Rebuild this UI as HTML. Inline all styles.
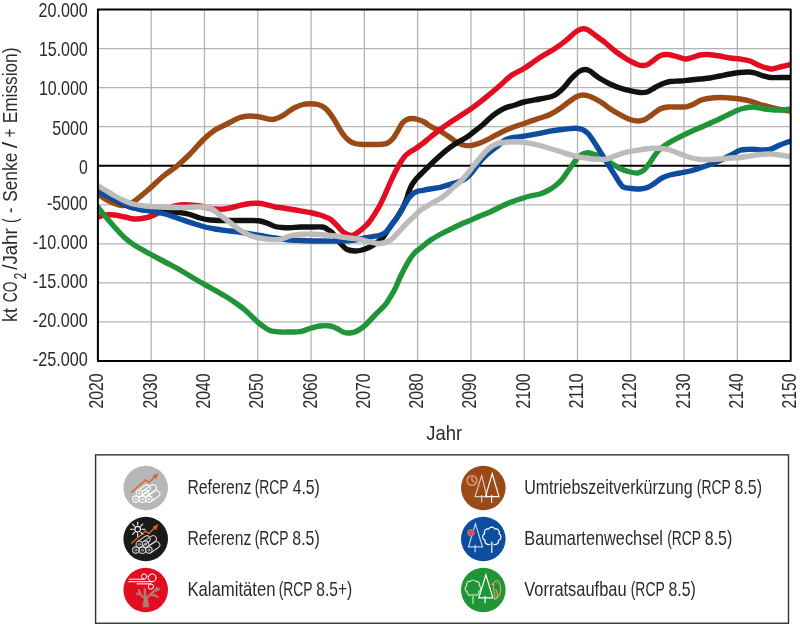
<!DOCTYPE html>
<html lang="de"><head><meta charset="utf-8"><title>CO2-Bilanz Szenarien</title>
<style>html,body{margin:0;padding:0;background:#fff}body{width:800px;height:624px;overflow:hidden}svg{display:block}text{font-family:"Liberation Sans",sans-serif;fill:#2b2b2a}</style>
</head><body>
<svg width="800" height="624" viewBox="0 0 800 624">
<rect width="800" height="624" fill="#fff"/>
<defs><clipPath id="plot"><rect x="97.9" y="9.5" width="692.8" height="351.5"/></clipPath></defs>
<g stroke="#b3b3b3" stroke-width="1.3" fill="none">
<line x1="151.19" y1="9.5" x2="151.19" y2="361.0"/>
<line x1="204.48" y1="9.5" x2="204.48" y2="361.0"/>
<line x1="257.77" y1="9.5" x2="257.77" y2="361.0"/>
<line x1="311.05" y1="9.5" x2="311.05" y2="361.0"/>
<line x1="364.34" y1="9.5" x2="364.34" y2="361.0"/>
<line x1="417.63" y1="9.5" x2="417.63" y2="361.0"/>
<line x1="470.92" y1="9.5" x2="470.92" y2="361.0"/>
<line x1="524.21" y1="9.5" x2="524.21" y2="361.0"/>
<line x1="577.50" y1="9.5" x2="577.50" y2="361.0"/>
<line x1="630.78" y1="9.5" x2="630.78" y2="361.0"/>
<line x1="684.07" y1="9.5" x2="684.07" y2="361.0"/>
<line x1="737.36" y1="9.5" x2="737.36" y2="361.0"/>
<line x1="97.9" y1="48.56" x2="790.6" y2="48.56"/>
<line x1="97.9" y1="87.61" x2="790.6" y2="87.61"/>
<line x1="97.9" y1="126.67" x2="790.6" y2="126.67"/>
<line x1="97.9" y1="204.78" x2="790.6" y2="204.78"/>
<line x1="97.9" y1="243.83" x2="790.6" y2="243.83"/>
<line x1="97.9" y1="282.89" x2="790.6" y2="282.89"/>
<line x1="97.9" y1="321.94" x2="790.6" y2="321.94"/>
</g>
<line x1="97.9" y1="165.72" x2="790.6" y2="165.72" stroke="#000" stroke-width="2"/>
<g clip-path="url(#plot)" fill="none" stroke-width="5.4" stroke-linejoin="round" stroke-linecap="butt">
<path stroke="#9a4a16" d="M97.00 193.50C99.17 194.85 105.83 199.58 110.00 201.60C114.17 203.62 118.75 205.20 122.00 205.60C125.25 206.00 127.25 204.88 129.50 204.00C131.75 203.12 132.42 202.63 135.50 200.30C138.58 197.97 143.33 194.05 148.00 190.00C152.67 185.95 158.67 180.00 163.50 176.00C168.33 172.00 172.58 169.67 177.00 166.00C181.42 162.33 185.50 158.50 190.00 154.00C194.50 149.50 199.83 143.00 204.00 139.00C208.17 135.00 211.17 132.50 215.00 130.00C218.83 127.50 222.83 126.08 227.00 124.00C231.17 121.92 236.17 118.83 240.00 117.50C243.83 116.17 246.67 116.08 250.00 116.00C253.33 115.92 256.33 116.42 260.00 117.00C263.67 117.58 268.33 119.67 272.00 119.50C275.67 119.33 279.00 117.50 282.00 116.00C285.00 114.50 287.83 111.92 290.00 110.50C292.17 109.08 292.83 108.50 295.00 107.50C297.17 106.50 300.50 105.12 303.00 104.50C305.50 103.88 307.50 103.75 310.00 103.75C312.50 103.75 315.50 103.79 318.00 104.50C320.50 105.21 323.00 106.50 325.00 108.00C327.00 109.50 328.33 111.33 330.00 113.50C331.67 115.67 333.33 118.30 335.00 121.00C336.67 123.70 338.33 127.07 340.00 129.70C341.67 132.33 343.33 134.87 345.00 136.80C346.67 138.73 348.33 140.18 350.00 141.30C351.67 142.42 353.33 143.00 355.00 143.50C356.67 144.00 357.50 144.13 360.00 144.30C362.50 144.47 366.33 144.50 370.00 144.50C373.67 144.50 379.00 144.58 382.00 144.30C385.00 144.02 386.17 143.77 388.00 142.80C389.83 141.83 391.50 140.25 393.00 138.50C394.50 136.75 395.75 134.38 397.00 132.30C398.25 130.22 399.50 127.67 400.50 126.00C401.50 124.33 401.92 123.38 403.00 122.30C404.08 121.22 405.50 120.13 407.00 119.50C408.50 118.87 410.17 118.50 412.00 118.50C413.83 118.50 415.83 118.83 418.00 119.50C420.17 120.17 423.00 121.42 425.00 122.50C427.00 123.58 427.50 124.58 430.00 126.00C432.50 127.42 436.67 129.08 440.00 131.00C443.33 132.92 447.00 135.50 450.00 137.50C453.00 139.50 455.50 141.70 458.00 143.00C460.50 144.30 462.67 144.92 465.00 145.30C467.33 145.68 469.50 145.68 472.00 145.30C474.50 144.92 477.00 144.17 480.00 143.00C483.00 141.83 486.67 139.97 490.00 138.30C493.33 136.63 496.67 134.65 500.00 133.00C503.33 131.35 506.00 129.98 510.00 128.40C514.00 126.82 519.00 125.23 524.00 123.50C529.00 121.77 535.67 119.50 540.00 118.00C544.33 116.50 546.67 116.08 550.00 114.50C553.33 112.92 556.67 110.75 560.00 108.50C563.33 106.25 567.17 103.00 570.00 101.00C572.83 99.00 574.83 97.50 577.00 96.50C579.17 95.50 580.83 95.00 583.00 95.00C585.17 95.00 587.17 95.42 590.00 96.50C592.83 97.58 596.67 99.47 600.00 101.50C603.33 103.53 606.67 106.50 610.00 108.70C613.33 110.90 616.67 112.90 620.00 114.70C623.33 116.50 627.00 118.45 630.00 119.50C633.00 120.55 635.50 121.00 638.00 121.00C640.50 121.00 642.67 120.55 645.00 119.50C647.33 118.45 649.50 116.45 652.00 114.70C654.50 112.95 657.33 110.28 660.00 109.00C662.67 107.72 665.00 107.33 668.00 107.00C671.00 106.67 675.00 107.03 678.00 107.00C681.00 106.97 683.50 107.22 686.00 106.80C688.50 106.38 690.67 105.55 693.00 104.50C695.33 103.45 697.50 101.50 700.00 100.50C702.50 99.50 704.67 99.00 708.00 98.50C711.33 98.00 716.33 97.58 720.00 97.50C723.67 97.42 726.67 97.75 730.00 98.00C733.33 98.25 736.67 98.50 740.00 99.00C743.33 99.50 746.67 100.08 750.00 101.00C753.33 101.92 756.67 103.50 760.00 104.50C763.33 105.50 766.67 106.17 770.00 107.00C773.33 107.83 776.50 108.83 780.00 109.50C783.50 110.17 789.17 110.75 791.00 111.00"/>
<path stroke="#e20d20" d="M97.00 217.50C98.33 217.08 102.00 215.42 105.00 215.00C108.00 214.58 111.67 214.67 115.00 215.00C118.33 215.33 121.67 216.33 125.00 217.00C128.33 217.67 131.67 218.83 135.00 219.00C138.33 219.17 142.17 218.50 145.00 218.00C147.83 217.50 149.50 217.00 152.00 216.00C154.50 215.00 157.00 213.42 160.00 212.00C163.00 210.58 166.67 208.67 170.00 207.50C173.33 206.33 176.67 205.42 180.00 205.00C183.33 204.58 186.67 204.83 190.00 205.00C193.33 205.17 196.67 205.42 200.00 206.00C203.33 206.58 206.67 207.95 210.00 208.50C213.33 209.05 216.67 209.38 220.00 209.30C223.33 209.22 226.67 208.67 230.00 208.00C233.33 207.33 236.67 206.05 240.00 205.30C243.33 204.55 247.00 203.83 250.00 203.50C253.00 203.17 255.50 203.17 258.00 203.30C260.50 203.43 262.17 203.68 265.00 204.30C267.83 204.92 272.50 206.47 275.00 207.00C277.50 207.53 276.67 207.00 280.00 207.50C283.33 208.00 290.00 209.17 295.00 210.00C300.00 210.83 305.83 211.67 310.00 212.50C314.17 213.33 316.67 213.92 320.00 215.00C323.33 216.08 327.17 217.25 330.00 219.00C332.83 220.75 335.00 223.50 337.00 225.50C339.00 227.50 340.33 229.53 342.00 231.00C343.67 232.47 345.33 233.55 347.00 234.30C348.67 235.05 350.33 235.72 352.00 235.50C353.67 235.28 354.83 234.50 357.00 233.00C359.17 231.50 362.83 228.50 365.00 226.50C367.17 224.50 368.33 223.17 370.00 221.00C371.67 218.83 373.33 216.17 375.00 213.50C376.67 210.83 378.33 208.17 380.00 205.00C381.67 201.83 383.33 198.17 385.00 194.50C386.67 190.83 388.33 186.67 390.00 183.00C391.67 179.33 393.25 175.92 395.00 172.50C396.75 169.08 398.75 165.33 400.50 162.50C402.25 159.67 403.92 157.25 405.50 155.50C407.08 153.75 408.42 153.08 410.00 152.00C411.58 150.92 413.33 150.08 415.00 149.00C416.67 147.92 417.50 147.42 420.00 145.50C422.50 143.58 426.67 140.17 430.00 137.50C433.33 134.83 436.67 132.00 440.00 129.50C443.33 127.00 446.67 124.75 450.00 122.50C453.33 120.25 456.67 118.17 460.00 116.00C463.33 113.83 466.67 111.80 470.00 109.50C473.33 107.20 476.67 104.78 480.00 102.20C483.33 99.62 486.67 96.78 490.00 94.00C493.33 91.22 496.33 88.67 500.00 85.50C503.67 82.33 508.00 77.83 512.00 75.00C516.00 72.17 519.33 71.42 524.00 68.50C528.67 65.58 534.83 60.83 540.00 57.50C545.17 54.17 550.83 51.21 555.00 48.50C559.17 45.79 561.67 43.92 565.00 41.25C568.33 38.58 572.50 34.46 575.00 32.50C577.50 30.54 578.50 30.12 580.00 29.50C581.50 28.88 582.67 28.67 584.00 28.75C585.33 28.83 586.17 28.96 588.00 30.00C589.83 31.04 592.17 32.92 595.00 35.00C597.83 37.08 601.67 39.83 605.00 42.50C608.33 45.17 611.67 48.42 615.00 51.00C618.33 53.58 622.17 56.17 625.00 58.00C627.83 59.83 629.83 60.88 632.00 62.00C634.17 63.12 636.17 64.12 638.00 64.70C639.83 65.28 641.33 65.57 643.00 65.50C644.67 65.43 646.00 65.33 648.00 64.30C650.00 63.27 653.00 60.73 655.00 59.30C657.00 57.87 658.00 56.50 660.00 55.70C662.00 54.90 664.50 54.45 667.00 54.50C669.50 54.55 672.00 55.25 675.00 56.00C678.00 56.75 682.17 58.75 685.00 59.00C687.83 59.25 689.50 58.17 692.00 57.50C694.50 56.83 697.33 55.50 700.00 55.00C702.67 54.50 704.67 54.33 708.00 54.50C711.33 54.67 716.33 55.42 720.00 56.00C723.67 56.58 726.67 57.50 730.00 58.00C733.33 58.50 736.67 58.50 740.00 59.00C743.33 59.50 747.00 60.00 750.00 61.00C753.00 62.00 755.50 63.92 758.00 65.00C760.50 66.08 762.67 66.83 765.00 67.50C767.33 68.17 769.50 69.08 772.00 69.00C774.50 68.92 776.83 67.75 780.00 67.00C783.17 66.25 789.17 64.92 791.00 64.50"/>
<path stroke="#1f9538" d="M97.00 206.00C98.33 207.67 102.00 212.42 105.00 216.00C108.00 219.58 111.67 223.83 115.00 227.50C118.33 231.17 121.67 235.00 125.00 238.00C128.33 241.00 130.83 242.83 135.00 245.50C139.17 248.17 145.00 251.25 150.00 254.00C155.00 256.75 160.00 259.33 165.00 262.00C170.00 264.67 175.00 267.17 180.00 270.00C185.00 272.83 190.00 276.08 195.00 279.00C200.00 281.92 205.00 284.67 210.00 287.50C215.00 290.33 220.83 293.50 225.00 296.00C229.17 298.50 231.67 300.17 235.00 302.50C238.33 304.83 241.67 307.17 245.00 310.00C248.33 312.83 252.17 316.92 255.00 319.50C257.83 322.08 259.50 323.67 262.00 325.50C264.50 327.33 267.00 329.42 270.00 330.50C273.00 331.58 276.67 331.75 280.00 332.00C283.33 332.25 286.67 332.05 290.00 332.00C293.33 331.95 296.67 332.28 300.00 331.70C303.33 331.12 306.67 329.45 310.00 328.50C313.33 327.55 316.67 326.42 320.00 326.00C323.33 325.58 327.17 325.58 330.00 326.00C332.83 326.42 334.83 327.50 337.00 328.50C339.17 329.50 340.83 331.25 343.00 332.00C345.17 332.75 347.67 333.17 350.00 333.00C352.33 332.83 354.50 332.25 357.00 331.00C359.50 329.75 362.00 328.17 365.00 325.50C368.00 322.83 371.67 318.42 375.00 315.00C378.33 311.58 382.50 307.92 385.00 305.00C387.50 302.08 388.33 300.17 390.00 297.50C391.67 294.83 393.33 292.33 395.00 289.00C396.67 285.67 398.33 281.08 400.00 277.50C401.67 273.92 403.33 270.58 405.00 267.50C406.67 264.42 408.33 261.50 410.00 259.00C411.67 256.50 413.33 254.25 415.00 252.50C416.67 250.75 417.50 250.50 420.00 248.50C422.50 246.50 426.67 242.83 430.00 240.50C433.33 238.17 436.67 236.33 440.00 234.50C443.33 232.67 446.67 231.13 450.00 229.50C453.33 227.87 456.67 226.20 460.00 224.70C463.33 223.20 466.67 221.95 470.00 220.50C473.33 219.05 476.67 217.42 480.00 216.00C483.33 214.58 486.67 213.50 490.00 212.00C493.33 210.50 496.67 208.58 500.00 207.00C503.33 205.42 506.67 203.83 510.00 202.50C513.33 201.17 516.67 200.08 520.00 199.00C523.33 197.92 526.67 196.83 530.00 196.00C533.33 195.17 537.00 194.92 540.00 194.00C543.00 193.08 545.50 191.83 548.00 190.50C550.50 189.17 552.67 187.83 555.00 186.00C557.33 184.17 559.83 182.00 562.00 179.50C564.17 177.00 566.17 173.58 568.00 171.00C569.83 168.42 571.33 166.25 573.00 164.00C574.67 161.75 576.33 159.17 578.00 157.50C579.67 155.83 581.33 154.80 583.00 154.00C584.67 153.20 586.33 152.70 588.00 152.70C589.67 152.70 591.00 153.37 593.00 154.00C595.00 154.63 597.17 155.08 600.00 156.50C602.83 157.92 606.67 160.50 610.00 162.50C613.33 164.50 616.67 166.92 620.00 168.50C623.33 170.08 627.00 171.25 630.00 172.00C633.00 172.75 635.67 173.33 638.00 173.00C640.33 172.67 642.00 171.75 644.00 170.00C646.00 168.25 648.17 165.00 650.00 162.50C651.83 160.00 653.33 157.25 655.00 155.00C656.67 152.75 658.00 150.83 660.00 149.00C662.00 147.17 664.50 145.62 667.00 144.00C669.50 142.38 671.17 141.30 675.00 139.30C678.83 137.30 685.00 134.30 690.00 132.00C695.00 129.70 700.00 127.72 705.00 125.50C710.00 123.28 715.83 120.65 720.00 118.70C724.17 116.75 727.17 115.17 730.00 113.80C732.83 112.43 734.83 111.38 737.00 110.50C739.17 109.62 741.00 109.03 743.00 108.50C745.00 107.97 746.83 107.52 749.00 107.30C751.17 107.08 753.33 106.92 756.00 107.20C758.67 107.48 761.83 108.53 765.00 109.00C768.17 109.47 772.00 109.83 775.00 110.00C778.00 110.17 780.33 110.17 783.00 110.00C785.67 109.83 789.67 109.17 791.00 109.00"/>
<path stroke="#111111" d="M97.00 190.00C99.17 191.20 106.17 195.17 110.00 197.20C113.83 199.23 116.67 200.57 120.00 202.20C123.33 203.83 126.67 205.87 130.00 207.00C133.33 208.13 136.67 208.42 140.00 209.00C143.33 209.58 145.83 210.17 150.00 210.50C154.17 210.83 160.00 210.67 165.00 211.00C170.00 211.33 175.83 211.92 180.00 212.50C184.17 213.08 186.67 213.58 190.00 214.50C193.33 215.42 196.67 217.08 200.00 218.00C203.33 218.92 206.67 219.58 210.00 220.00C213.33 220.42 215.83 220.42 220.00 220.50C224.17 220.58 230.00 220.50 235.00 220.50C240.00 220.50 245.83 220.42 250.00 220.50C254.17 220.58 257.00 220.50 260.00 221.00C263.00 221.50 265.50 222.58 268.00 223.50C270.50 224.42 272.67 225.83 275.00 226.50C277.33 227.17 279.50 227.28 282.00 227.50C284.50 227.72 287.00 227.88 290.00 227.80C293.00 227.72 296.67 227.13 300.00 227.00C303.33 226.87 306.33 227.00 310.00 227.00C313.67 227.00 319.17 226.67 322.00 227.00C324.83 227.33 325.33 228.08 327.00 229.00C328.67 229.92 330.33 230.83 332.00 232.50C333.67 234.17 335.33 236.92 337.00 239.00C338.67 241.08 340.33 243.25 342.00 245.00C343.67 246.75 344.83 248.50 347.00 249.50C349.17 250.50 352.50 250.92 355.00 251.00C357.50 251.08 359.50 250.67 362.00 250.00C364.50 249.33 367.50 248.25 370.00 247.00C372.50 245.75 374.83 244.08 377.00 242.50C379.17 240.92 381.33 239.33 383.00 237.50C384.67 235.67 385.58 233.58 387.00 231.50C388.42 229.42 389.83 227.33 391.50 225.00C393.17 222.67 395.22 220.17 397.00 217.50C398.78 214.83 400.70 211.83 402.20 209.00C403.70 206.17 404.95 203.17 406.00 200.50C407.05 197.83 407.67 195.33 408.50 193.00C409.33 190.67 409.92 188.62 411.00 186.50C412.08 184.38 413.50 182.22 415.00 180.30C416.50 178.38 418.33 176.72 420.00 175.00C421.67 173.28 422.50 172.45 425.00 170.00C427.50 167.55 431.67 163.42 435.00 160.30C438.33 157.18 441.67 154.02 445.00 151.30C448.33 148.58 451.67 146.17 455.00 144.00C458.33 141.83 462.50 139.83 465.00 138.30C467.50 136.77 468.00 136.30 470.00 134.80C472.00 133.30 474.92 130.93 477.00 129.30C479.08 127.67 480.33 126.88 482.50 125.00C484.67 123.12 487.58 120.08 490.00 118.00C492.42 115.92 494.50 114.17 497.00 112.50C499.50 110.83 502.00 109.25 505.00 108.00C508.00 106.75 511.83 106.00 515.00 105.00C518.17 104.00 519.83 103.00 524.00 102.00C528.17 101.00 535.67 99.83 540.00 99.00C544.33 98.17 547.50 97.67 550.00 97.00C552.50 96.33 553.33 95.96 555.00 95.00C556.67 94.04 558.33 92.71 560.00 91.25C561.67 89.79 563.33 88.12 565.00 86.25C566.67 84.38 568.33 81.88 570.00 80.00C571.67 78.12 573.33 76.50 575.00 75.00C576.67 73.50 578.33 71.92 580.00 71.00C581.67 70.08 583.33 69.50 585.00 69.50C586.67 69.50 588.33 70.08 590.00 71.00C591.67 71.92 593.33 73.75 595.00 75.00C596.67 76.25 597.50 77.00 600.00 78.50C602.50 80.00 606.67 82.42 610.00 84.00C613.33 85.58 616.67 86.88 620.00 88.00C623.33 89.12 626.67 89.95 630.00 90.70C633.33 91.45 637.17 92.28 640.00 92.50C642.83 92.72 644.50 92.83 647.00 92.00C649.50 91.17 652.50 88.83 655.00 87.50C657.50 86.17 659.50 85.00 662.00 84.00C664.50 83.00 667.00 82.00 670.00 81.50C673.00 81.00 676.67 81.25 680.00 81.00C683.33 80.75 686.67 80.33 690.00 80.00C693.33 79.67 696.67 79.33 700.00 79.00C703.33 78.67 706.67 78.50 710.00 78.00C713.33 77.50 716.67 76.67 720.00 76.00C723.33 75.33 726.67 74.58 730.00 74.00C733.33 73.42 737.00 72.83 740.00 72.50C743.00 72.17 745.50 71.92 748.00 72.00C750.50 72.08 752.67 72.42 755.00 73.00C757.33 73.58 759.50 74.75 762.00 75.50C764.50 76.25 767.00 77.17 770.00 77.50C773.00 77.83 776.50 77.50 780.00 77.50C783.50 77.50 789.17 77.50 791.00 77.50"/>
<path stroke="#0d4da0" d="M97.00 191.00C99.17 192.00 106.17 195.18 110.00 197.00C113.83 198.82 116.67 200.30 120.00 201.90C123.33 203.50 126.67 205.33 130.00 206.60C133.33 207.87 136.67 208.77 140.00 209.50C143.33 210.23 145.83 210.25 150.00 211.00C154.17 211.75 160.00 212.67 165.00 214.00C170.00 215.33 175.00 217.33 180.00 219.00C185.00 220.67 190.83 222.67 195.00 224.00C199.17 225.33 201.67 226.17 205.00 227.00C208.33 227.83 210.83 228.33 215.00 229.00C219.17 229.67 225.00 230.33 230.00 231.00C235.00 231.67 240.00 232.25 245.00 233.00C250.00 233.75 255.00 234.67 260.00 235.50C265.00 236.33 270.00 237.25 275.00 238.00C280.00 238.75 285.83 239.58 290.00 240.00C294.17 240.42 295.00 240.33 300.00 240.50C305.00 240.67 313.33 240.92 320.00 241.00C326.67 241.08 334.17 241.17 340.00 241.00C345.83 240.83 350.83 240.50 355.00 240.00C359.17 239.50 361.67 238.63 365.00 238.00C368.33 237.37 372.50 236.65 375.00 236.20C377.50 235.75 378.17 236.00 380.00 235.30C381.83 234.60 384.08 233.72 386.00 232.00C387.92 230.28 389.67 227.42 391.50 225.00C393.33 222.58 395.22 220.17 397.00 217.50C398.78 214.83 400.45 211.92 402.20 209.00C403.95 206.08 405.87 202.42 407.50 200.00C409.13 197.58 410.42 195.92 412.00 194.50C413.58 193.08 415.17 192.20 417.00 191.50C418.83 190.80 420.83 190.72 423.00 190.30C425.17 189.88 427.17 189.50 430.00 189.00C432.83 188.50 436.67 188.08 440.00 187.30C443.33 186.52 447.17 185.13 450.00 184.30C452.83 183.47 455.00 182.93 457.00 182.30C459.00 181.67 460.33 181.30 462.00 180.50C463.67 179.70 465.33 178.87 467.00 177.50C468.67 176.13 470.33 174.30 472.00 172.30C473.67 170.30 475.33 167.67 477.00 165.50C478.67 163.33 479.83 161.55 482.00 159.30C484.17 157.05 487.25 154.30 490.00 152.00C492.75 149.70 496.00 147.50 498.50 145.50C501.00 143.50 502.75 141.30 505.00 140.00C507.25 138.70 509.50 138.25 512.00 137.70C514.50 137.15 517.00 137.12 520.00 136.70C523.00 136.28 526.67 135.75 530.00 135.20C533.33 134.65 536.67 134.07 540.00 133.40C543.33 132.73 546.67 131.82 550.00 131.20C553.33 130.58 556.67 130.13 560.00 129.70C563.33 129.27 567.33 128.83 570.00 128.60C572.67 128.37 574.33 128.27 576.00 128.30C577.67 128.33 578.67 128.47 580.00 128.80C581.33 129.13 582.67 129.52 584.00 130.30C585.33 131.08 586.67 132.08 588.00 133.50C589.33 134.92 590.67 136.88 592.00 138.80C593.33 140.72 594.50 142.63 596.00 145.00C597.50 147.37 599.33 150.33 601.00 153.00C602.67 155.67 604.33 158.33 606.00 161.00C607.67 163.67 609.33 166.33 611.00 169.00C612.67 171.67 614.42 174.50 616.00 177.00C617.58 179.50 619.42 182.42 620.50 184.00C621.58 185.58 621.58 185.87 622.50 186.50C623.42 187.13 624.42 187.47 626.00 187.80C627.58 188.13 629.67 188.30 632.00 188.50C634.33 188.70 637.33 189.20 640.00 189.00C642.67 188.80 645.50 188.30 648.00 187.30C650.50 186.30 652.67 184.55 655.00 183.00C657.33 181.45 659.50 179.33 662.00 178.00C664.50 176.67 667.00 175.83 670.00 175.00C673.00 174.17 676.67 173.67 680.00 173.00C683.33 172.33 686.67 171.83 690.00 171.00C693.33 170.17 696.67 169.08 700.00 168.00C703.33 166.92 706.67 165.75 710.00 164.50C713.33 163.25 716.67 162.00 720.00 160.50C723.33 159.00 726.67 157.20 730.00 155.50C733.33 153.80 737.00 151.32 740.00 150.30C743.00 149.28 745.50 149.55 748.00 149.40C750.50 149.25 752.67 149.32 755.00 149.40C757.33 149.48 759.50 149.90 762.00 149.90C764.50 149.90 767.00 150.22 770.00 149.40C773.00 148.58 776.50 146.40 780.00 145.00C783.50 143.60 789.17 141.67 791.00 141.00"/>
<path stroke="#bcbcbc" d="M97.00 185.00C98.33 185.83 102.00 188.17 105.00 190.00C108.00 191.83 111.67 194.17 115.00 196.00C118.33 197.83 121.67 199.58 125.00 201.00C128.33 202.42 131.67 203.67 135.00 204.50C138.33 205.33 140.83 205.58 145.00 206.00C149.17 206.42 154.17 206.75 160.00 207.00C165.83 207.25 174.17 207.50 180.00 207.50C185.83 207.50 190.83 207.08 195.00 207.00C199.17 206.92 202.17 206.67 205.00 207.00C207.83 207.33 209.50 207.67 212.00 209.00C214.50 210.33 217.00 212.75 220.00 215.00C223.00 217.25 226.67 220.00 230.00 222.50C233.33 225.00 236.67 227.83 240.00 230.00C243.33 232.17 246.67 234.17 250.00 235.50C253.33 236.83 256.67 237.33 260.00 238.00C263.33 238.67 266.67 239.28 270.00 239.50C273.33 239.72 276.67 239.88 280.00 239.30C283.33 238.72 287.00 236.80 290.00 236.00C293.00 235.20 294.67 234.83 298.00 234.50C301.33 234.17 306.33 234.00 310.00 234.00C313.67 234.00 315.83 234.17 320.00 234.50C324.17 234.83 330.00 235.42 335.00 236.00C340.00 236.58 345.83 237.42 350.00 238.00C354.17 238.58 356.67 238.83 360.00 239.50C363.33 240.17 367.00 241.33 370.00 242.00C373.00 242.67 375.83 243.33 378.00 243.50C380.17 243.67 381.33 243.33 383.00 243.00C384.67 242.67 386.33 242.33 388.00 241.50C389.67 240.67 391.00 239.83 393.00 238.00C395.00 236.17 397.50 233.17 400.00 230.50C402.50 227.83 405.50 224.50 408.00 222.00C410.50 219.50 413.00 217.42 415.00 215.50C417.00 213.58 417.50 212.37 420.00 210.50C422.50 208.63 426.67 206.27 430.00 204.30C433.33 202.33 437.17 200.50 440.00 198.70C442.83 196.90 444.92 195.23 447.00 193.50C449.08 191.77 450.33 190.22 452.50 188.30C454.67 186.38 457.75 184.13 460.00 182.00C462.25 179.87 464.17 177.62 466.00 175.50C467.83 173.38 469.33 171.42 471.00 169.30C472.67 167.18 474.33 164.90 476.00 162.80C477.67 160.70 479.33 158.63 481.00 156.70C482.67 154.77 484.50 152.73 486.00 151.20C487.50 149.67 488.50 148.62 490.00 147.50C491.50 146.38 493.33 145.25 495.00 144.50C496.67 143.75 497.83 143.42 500.00 143.00C502.17 142.58 505.50 142.20 508.00 142.00C510.50 141.80 513.00 141.80 515.00 141.80C517.00 141.80 517.50 141.75 520.00 142.00C522.50 142.25 526.67 142.72 530.00 143.30C533.33 143.88 536.67 144.63 540.00 145.50C543.33 146.37 546.67 147.50 550.00 148.50C553.33 149.50 556.67 150.47 560.00 151.50C563.33 152.53 566.67 153.75 570.00 154.70C573.33 155.65 576.67 156.53 580.00 157.20C583.33 157.87 586.67 158.35 590.00 158.70C593.33 159.05 597.17 159.25 600.00 159.30C602.83 159.35 604.50 159.55 607.00 159.00C609.50 158.45 612.00 157.08 615.00 156.00C618.00 154.92 621.67 153.38 625.00 152.50C628.33 151.62 631.67 151.28 635.00 150.70C638.33 150.12 641.67 149.40 645.00 149.00C648.33 148.60 652.17 148.38 655.00 148.30C657.83 148.22 659.50 148.22 662.00 148.50C664.50 148.78 667.00 149.08 670.00 150.00C673.00 150.92 676.67 152.75 680.00 154.00C683.33 155.25 686.67 156.58 690.00 157.50C693.33 158.42 696.67 159.17 700.00 159.50C703.33 159.83 706.67 159.58 710.00 159.50C713.33 159.42 716.67 159.25 720.00 159.00C723.33 158.75 726.67 158.25 730.00 158.00C733.33 157.75 736.67 157.83 740.00 157.50C743.33 157.17 746.67 156.50 750.00 156.00C753.33 155.50 756.67 154.83 760.00 154.50C763.33 154.17 766.67 153.92 770.00 154.00C773.33 154.08 776.50 154.50 780.00 155.00C783.50 155.50 789.17 156.67 791.00 157.00"/>
</g>
<rect x="97.9" y="9.5" width="692.8" height="351.5" fill="none" stroke="#000" stroke-width="2" stroke-linejoin="round"/>
<g>
<text x="38.49" y="17.15" font-size="20.40" textLength="49.28" lengthAdjust="spacingAndGlyphs">20.000</text>
<text x="38.90" y="56.27" font-size="20.40" textLength="48.87" lengthAdjust="spacingAndGlyphs">15.000</text>
<text x="38.90" y="95.19" font-size="20.40" textLength="48.87" lengthAdjust="spacingAndGlyphs">10.000</text>
<text x="52.26" y="134.61" font-size="20.40" textLength="35.52" lengthAdjust="spacingAndGlyphs">5000</text>
<text x="78.97" y="173.83" font-size="20.40" textLength="8.79" lengthAdjust="spacingAndGlyphs">0</text>
<text x="46.88" y="209.85" font-size="20.40" textLength="40.87" lengthAdjust="spacingAndGlyphs">-5000</text>
<text x="32.87" y="249.07" font-size="20.40" textLength="54.91" lengthAdjust="spacingAndGlyphs">-10.000</text>
<text x="32.87" y="288.09" font-size="20.40" textLength="54.91" lengthAdjust="spacingAndGlyphs">-15.000</text>
<text x="32.87" y="327.41" font-size="20.40" textLength="54.91" lengthAdjust="spacingAndGlyphs">-20.000</text>
<text x="32.87" y="366.13" font-size="20.40" textLength="54.91" lengthAdjust="spacingAndGlyphs">-25.000</text>
</g>
<g>
<text transform="translate(103.35 407.60) rotate(-90)" x="-0.79" y="0" font-size="20.80" textLength="35.01" lengthAdjust="spacingAndGlyphs">2020</text>
<text transform="translate(156.64 407.60) rotate(-90)" x="-0.79" y="0" font-size="20.80" textLength="35.01" lengthAdjust="spacingAndGlyphs">2030</text>
<text transform="translate(209.93 407.60) rotate(-90)" x="-0.79" y="0" font-size="20.80" textLength="35.01" lengthAdjust="spacingAndGlyphs">2040</text>
<text transform="translate(263.22 407.60) rotate(-90)" x="-0.79" y="0" font-size="20.80" textLength="35.01" lengthAdjust="spacingAndGlyphs">2050</text>
<text transform="translate(316.50 407.60) rotate(-90)" x="-0.79" y="0" font-size="20.80" textLength="35.01" lengthAdjust="spacingAndGlyphs">2060</text>
<text transform="translate(369.79 407.60) rotate(-90)" x="-0.79" y="0" font-size="20.80" textLength="35.01" lengthAdjust="spacingAndGlyphs">2070</text>
<text transform="translate(423.08 407.60) rotate(-90)" x="-0.79" y="0" font-size="20.80" textLength="35.01" lengthAdjust="spacingAndGlyphs">2080</text>
<text transform="translate(476.37 407.60) rotate(-90)" x="-0.79" y="0" font-size="20.80" textLength="35.01" lengthAdjust="spacingAndGlyphs">2090</text>
<text transform="translate(529.66 407.60) rotate(-90)" x="-0.79" y="0" font-size="20.80" textLength="35.01" lengthAdjust="spacingAndGlyphs">2100</text>
<text transform="translate(582.95 407.60) rotate(-90)" x="-0.81" y="0" font-size="20.80" textLength="35.03" lengthAdjust="spacingAndGlyphs">2110</text>
<text transform="translate(636.23 407.60) rotate(-90)" x="-0.79" y="0" font-size="20.80" textLength="35.01" lengthAdjust="spacingAndGlyphs">2120</text>
<text transform="translate(689.52 407.60) rotate(-90)" x="-0.79" y="0" font-size="20.80" textLength="35.01" lengthAdjust="spacingAndGlyphs">2130</text>
<text transform="translate(742.81 407.60) rotate(-90)" x="-0.79" y="0" font-size="20.80" textLength="35.01" lengthAdjust="spacingAndGlyphs">2140</text>
<text transform="translate(796.10 407.60) rotate(-90)" x="-0.79" y="0" font-size="20.80" textLength="35.01" lengthAdjust="spacingAndGlyphs">2150</text>
</g>
<text x="426.32" y="439.90" font-size="20.20" textLength="35.86" lengthAdjust="spacingAndGlyphs">Jahr</text>
<text transform="translate(17.30 0) rotate(-90)" y="0" font-size="20"><tspan x="-321.91" textLength="13.95" lengthAdjust="spacingAndGlyphs">kt</tspan> <tspan x="-302.29" textLength="20.75" lengthAdjust="spacingAndGlyphs">CO</tspan><tspan x="-279.62" textLength="6.85" lengthAdjust="spacingAndGlyphs" dy="8.8" font-size="16.5">2</tspan><tspan x="-269.70" textLength="41.29" lengthAdjust="spacingAndGlyphs" dy="-8.8">/Jahr</tspan> <tspan x="-222.70" textLength="4.27" lengthAdjust="spacingAndGlyphs">(</tspan> <tspan x="-213.00" textLength="5.17" lengthAdjust="spacingAndGlyphs">-</tspan> <tspan x="-201.78" textLength="49.02" lengthAdjust="spacingAndGlyphs">Senke</tspan> <tspan x="-148.30" textLength="6.39" lengthAdjust="spacingAndGlyphs">/</tspan> <tspan x="-137.62" textLength="8.86" lengthAdjust="spacingAndGlyphs">+</tspan> <tspan x="-123.32" textLength="75.75" lengthAdjust="spacingAndGlyphs">Emission)</tspan></text>
<rect x="95.6" y="454.85" width="692.9" height="168.4" fill="#fff" stroke="#333332" stroke-width="1.4"/>
<g>
<circle cx="145.7" cy="488.0" r="22.3" fill="#b7b7b7"/>
<g transform="translate(145.7 488.0)"><g fill="none" stroke="#fff" stroke-width="1.05" stroke-linecap="round" stroke-linejoin="round"><path d="M-8.24 2.62 L-0.49 -2.70 A3.25 3.25 0 0 1 3.19 2.65 L-4.56 7.98"/><path d="M-2.04 2.42 L5.71 -2.90 A3.25 3.25 0 0 1 9.39 2.45 L1.64 7.78"/><path d="M1.36 8.42 L9.11 3.10 A3.25 3.25 0 0 1 12.79 8.45 L5.04 13.78"/><circle cx="-9.90" cy="11.10" r="3.25"/><circle cx="-9.90" cy="11.10" r="1.1" stroke-width="0.7"/><circle cx="-3.30" cy="11.20" r="3.25"/><circle cx="-3.30" cy="11.20" r="1.1" stroke-width="0.7"/><circle cx="3.20" cy="11.10" r="3.25"/><circle cx="3.20" cy="11.10" r="1.1" stroke-width="0.7"/><circle cx="-6.40" cy="5.30" r="3.25"/><circle cx="-6.40" cy="5.30" r="1.1" stroke-width="0.7"/><circle cx="-0.20" cy="5.10" r="3.25"/><circle cx="-0.20" cy="5.10" r="1.1" stroke-width="0.7"/></g><path d="M-14.4 4.5 L-0.3 -8 L3.1 -5.5 L9 -11.2" fill="none" stroke="#d9622b" stroke-width="1.5" stroke-linejoin="miter"/><path d="M12.8 -14.9 L10.3 -8.6 L6.9 -12.2 Z" fill="#d9622b"/></g>
<text y="493.70" font-size="21.00"><tspan x="187.40" textLength="63.89" lengthAdjust="spacingAndGlyphs">Referenz</tspan> <tspan x="254.64" textLength="33.68" lengthAdjust="spacingAndGlyphs">(RCP</tspan> <tspan x="292.65" textLength="27.11" lengthAdjust="spacingAndGlyphs">4.5)</tspan></text>
</g>
<g>
<circle cx="145.7" cy="539.0" r="22.3" fill="#1a1a1a"/>
<g transform="translate(145.7 539.0)"><g fill="none" stroke="#cfcfcf" stroke-width="1.05" stroke-linecap="round" stroke-linejoin="round"><path d="M-8.24 2.62 L-0.49 -2.70 A3.25 3.25 0 0 1 3.19 2.65 L-4.56 7.98"/><path d="M-2.04 2.42 L5.71 -2.90 A3.25 3.25 0 0 1 9.39 2.45 L1.64 7.78"/><path d="M1.36 8.42 L9.11 3.10 A3.25 3.25 0 0 1 12.79 8.45 L5.04 13.78"/><circle cx="-9.90" cy="11.10" r="3.25"/><circle cx="-9.90" cy="11.10" r="1.1" stroke-width="0.7"/><circle cx="-3.30" cy="11.20" r="3.25"/><circle cx="-3.30" cy="11.20" r="1.1" stroke-width="0.7"/><circle cx="3.20" cy="11.10" r="3.25"/><circle cx="3.20" cy="11.10" r="1.1" stroke-width="0.7"/><circle cx="-6.40" cy="5.30" r="3.25"/><circle cx="-6.40" cy="5.30" r="1.1" stroke-width="0.7"/><circle cx="-0.20" cy="5.10" r="3.25"/><circle cx="-0.20" cy="5.10" r="1.1" stroke-width="0.7"/></g><path d="M-14.4 4.5 L-0.3 -8 L3.1 -5.5 L9 -11.2" fill="none" stroke="#d9622b" stroke-width="1.5" stroke-linejoin="miter"/><path d="M12.8 -14.9 L10.3 -8.6 L6.9 -12.2 Z" fill="#d9622b"/><g fill="none" stroke="#fff" stroke-width="1.1" stroke-linecap="round"><circle cx="-8.00" cy="-9.80" r="2.8"/><line x1="-3.60" y1="-9.80" x2="-0.80" y2="-9.80"/><line x1="-4.89" y1="-6.69" x2="-2.91" y2="-4.71"/><line x1="-8.00" y1="-5.40" x2="-8.00" y2="-2.60"/><line x1="-11.11" y1="-6.69" x2="-13.09" y2="-4.71"/><line x1="-12.40" y1="-9.80" x2="-15.20" y2="-9.80"/><line x1="-11.11" y1="-12.91" x2="-13.09" y2="-14.89"/><line x1="-8.00" y1="-14.20" x2="-8.00" y2="-17.00"/><line x1="-4.89" y1="-12.91" x2="-2.91" y2="-14.89"/></g></g>
<text y="544.70" font-size="21.00"><tspan x="187.40" textLength="63.89" lengthAdjust="spacingAndGlyphs">Referenz</tspan> <tspan x="254.64" textLength="33.68" lengthAdjust="spacingAndGlyphs">(RCP</tspan> <tspan x="292.32" textLength="27.44" lengthAdjust="spacingAndGlyphs">8.5)</tspan></text>
</g>
<g>
<circle cx="145.7" cy="590.0" r="22.3" fill="#e20d20"/>
<g transform="translate(145.7 590.0)"><path d="M-3.2 17.2 L-1.9 9 L-2.1 -1.6 L-0.1 -2.6 L0.7 6.4 L2.6 11 L3.4 17.2 Z" fill="#b07c72"/><g fill="none" stroke="#b07c72" stroke-linecap="round" stroke-linejoin="round"><path d="M-1.4 8 L-4.8 4.8 L-8.8 3.4 M-4.8 4.8 L-6.8 0" stroke-width="2.1"/><path d="M0.6 8.6 L4.6 4.6 L8.4 1.4 L11.6 -2 M8.4 1.4 L13.4 -0.8 M4.6 4.6 L10.2 5.6 L12.2 7.2" stroke-width="2.1"/></g><g fill="none" stroke="#fff" stroke-width="1" stroke-linecap="round"><path d="M-16.5 -10.8 L-1.6 -10.8"/><circle cx="-1.6" cy="-13.5" r="2.7"/><path d="M-16.9 -8.3 L6.4 -8.3"/><circle cx="6.4" cy="-12.2" r="3.9"/><path d="M-8.6 -6.1 L5.2 -6.1"/><circle cx="5.2" cy="-3.4" r="2.7"/></g></g>
<text y="595.70" font-size="21.00"><tspan x="187.42" textLength="88.14" lengthAdjust="spacingAndGlyphs">Kalamitäten</tspan> <tspan x="278.64" textLength="33.68" lengthAdjust="spacingAndGlyphs">(RCP</tspan> <tspan x="316.34" textLength="35.89" lengthAdjust="spacingAndGlyphs">8.5+)</tspan></text>
</g>
<g>
<circle cx="483.3" cy="488.0" r="22.3" fill="#9a4a16"/>
<g transform="translate(483.3 488.0)"><g fill="none" stroke="#f0a17e" stroke-width="1.25" stroke-linecap="round"><circle cx="-11.3" cy="-7.5" r="4.9"/><path d="M-11.3 -10.7 L-11.3 -7.5 L-8.9 -5.9"/></g><g fill="none" stroke="#dccbc0" stroke-width="1.20" stroke-linejoin="miter" stroke-linecap="butt"><path d="M-1.60 -12.40 L-8.30 8.60 L3.60 8.60 Z"/><line x1="-1.60" y1="7.00" x2="-1.60" y2="14.50"/></g><g fill="none" stroke="#fff" stroke-width="1.20" stroke-linejoin="miter" stroke-linecap="butt"><path d="M8.90 -14.40 L2.20 8.60 L15.70 8.60 Z"/><line x1="8.30" y1="7.00" x2="8.30" y2="14.80"/></g></g>
<text y="493.70" font-size="21.00"><tspan x="524.16" textLength="168.50" lengthAdjust="spacingAndGlyphs">Umtriebszeitverkürzung</tspan> <tspan x="696.84" textLength="33.68" lengthAdjust="spacingAndGlyphs">(RCP</tspan> <tspan x="734.52" textLength="27.44" lengthAdjust="spacingAndGlyphs">8.5)</tspan></text>
</g>
<g>
<circle cx="483.3" cy="539.0" r="22.3" fill="#0d4da0"/>
<g transform="translate(483.3 539.0)"><g fill="none" stroke="#c6d2e8" stroke-width="1.20" stroke-linejoin="miter" stroke-linecap="butt"><path d="M-7.90 -15.30 L-14.80 7.80 L-0.80 7.80 Z"/><line x1="-8.20" y1="5.80" x2="-8.20" y2="13.30"/></g><circle cx="-12.3" cy="-6.3" r="3.7" fill="#d2655e"/><g fill="#a63c3c"><circle cx="-13.5" cy="-7.3" r="0.75"/><circle cx="-11.2" cy="-7.4" r="0.75"/><circle cx="-12.4" cy="-5.1" r="0.75"/></g><g fill="none" stroke="#fff" stroke-width="1.20" stroke-linejoin="round" stroke-linecap="round"><path d="M6.66 5.29 A3.50 3.50 0 0 1 1.83 1.29 A3.50 3.50 0 0 1 1.31 -5.23 A3.50 3.50 0 0 1 5.44 -10.05 A3.50 3.50 0 0 1 11.56 -10.05 A3.50 3.50 0 0 1 15.69 -5.23 A3.50 3.50 0 0 1 15.17 1.29 A3.50 3.50 0 0 1 10.34 5.29"/><line x1="8.50" y1="3.20" x2="8.50" y2="13.30"/></g></g>
<text y="544.70" font-size="21.00"><tspan x="524.25" textLength="138.74" lengthAdjust="spacingAndGlyphs">Baumartenwechsel</tspan> <tspan x="667.14" textLength="33.68" lengthAdjust="spacingAndGlyphs">(RCP</tspan> <tspan x="704.82" textLength="27.44" lengthAdjust="spacingAndGlyphs">8.5)</tspan></text>
</g>
<g>
<circle cx="483.3" cy="590.0" r="22.3" fill="#1f9538"/>
<g transform="translate(483.3 590.0)"><g fill="none" stroke="#cfe3bf" stroke-width="1.20" stroke-linejoin="round" stroke-linecap="round"><path d="M-11.90 4.85 A3.04 3.04 0 0 1 -16.10 1.38 A3.04 3.04 0 0 1 -16.55 -4.28 A3.04 3.04 0 0 1 -12.95 -8.47 A3.04 3.04 0 0 1 -7.65 -8.47 A3.04 3.04 0 0 1 -4.05 -4.28 A3.04 3.04 0 0 1 -4.50 1.38 A3.04 3.04 0 0 1 -8.70 4.85"/><line x1="-10.30" y1="4.00" x2="-10.30" y2="13.20"/></g><g fill="none" stroke="#fff" stroke-width="1.20" stroke-linejoin="miter" stroke-linecap="butt"><path d="M2.60 -15.20 L-4.50 7.80 L9.60 7.80 Z"/><line x1="1.80" y1="6.00" x2="1.80" y2="13.20"/></g><g fill="none" stroke="#e3a26c" stroke-width="1.1" stroke-linecap="round" stroke-linejoin="round"><path d="M10.6 -5.4 L8.6 -5.9 L11 -7.6 A2.6 2.6 0 0 1 16 -7 C17.6 -3.5 18 1.5 16.2 5 C15 7.4 13 8.6 11.4 9.4 C11.8 6 11.2 2 10.4 -0.6 C9.8 -2.6 10 -4.2 10.6 -5.4 Z"/><path d="M12.4 -0.5 C14.2 1.6 14.6 5 13 8.4"/></g><circle cx="13.6" cy="-7" r="0.6" fill="#e3a26c"/></g>
<text y="595.70" font-size="21.00"><tspan x="524.29" textLength="102.31" lengthAdjust="spacingAndGlyphs">Vorratsaufbau</tspan> <tspan x="630.74" textLength="33.68" lengthAdjust="spacingAndGlyphs">(RCP</tspan> <tspan x="668.42" textLength="27.44" lengthAdjust="spacingAndGlyphs">8.5)</tspan></text>
</g>
</svg></body></html>
